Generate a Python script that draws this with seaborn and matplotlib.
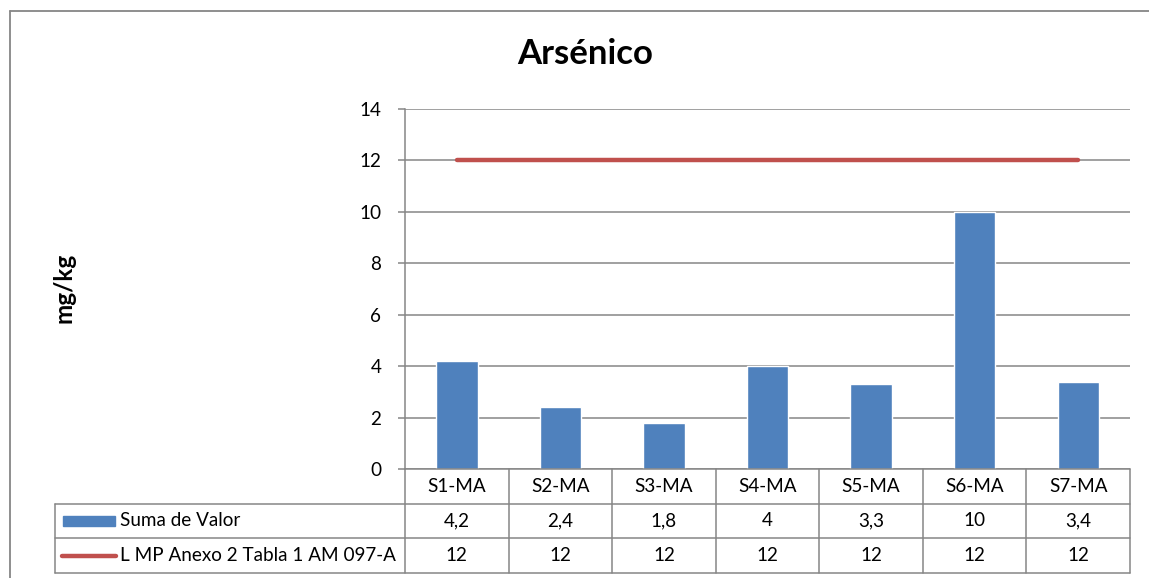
import matplotlib
matplotlib.use("agg")
import matplotlib.pyplot as plt
import pandas as pd
import seaborn as sns
import numpy as np
from matplotlib.lines import Line2D
from matplotlib.patches import Rectangle

categories = ["S1-MA", "S2-MA", "S3-MA", "S4-MA", "S5-MA", "S6-MA", "S7-MA"]
suma_valor = [4.2, 2.4, 1.8, 4, 3.3, 10, 3.4]
limite = [12, 12, 12, 12, 12, 12, 12]
series_names = ["Suma de Valor", "L MP Anexo 2 Tabla 1 AM 097-A"]
yticks = [0, 2, 4, 6, 8, 10, 12, 14]

BLUE = "#4F81BD"
RED = "#C0504D"
GRID = "#868686"

W, H = 1149, 578
sns.set_style("white")
plt.rcParams["font.family"] = ["Lato", "DejaVu Sans"]
plt.rcParams["text.color"] = "black"
plt.rcParams["ytick.labelcolor"] = "black"

fig = plt.figure(figsize=(W / 100, H / 100), dpi=100)

# pixel geometry of the plot area
pl, pr, pt, pb = 405, 1130, 109, 469
ax = fig.add_axes([pl / W, 1 - pb / H, (pr - pl) / W, (pb - pt) / H])

df = pd.DataFrame({"cat": categories, "val": suma_valor})
sns.barplot(data=df, x="cat", y="val", color=BLUE, width=0.4, saturation=1, ax=ax)
sns.lineplot(x=np.arange(len(categories)), y=limite, color=RED, linewidth=3.2,
             solid_capstyle="round", ax=ax)

ax.set_xlim(-0.5, len(categories) - 0.5)
ax.set_ylim(0, 14)
ax.set_yticks(yticks)
ax.set_yticklabels([str(t) for t in yticks], fontsize=13.6, color="black")
ax.set_xticks([])
ax.set_xlabel("")
ax.set_ylabel("")
ax.yaxis.grid(True, color=GRID, linewidth=1.1)
ax.set_axisbelow(True)
for s in ["top", "right", "bottom"]:
    ax.spines[s].set_visible(False)
ax.spines["left"].set_color(GRID)
ax.spines["left"].set_linewidth(1.1)
ax.tick_params(axis="y", length=5, width=1.1, color=GRID, pad=12, left=True)

# data table below the plot
tl, tr, tt, tb = 55, 1130, 469, 573
u = (pr - pl) / len(categories)
x0 = -0.5 - (pl - tl) / u
tab = fig.add_axes([tl / W, 1 - tb / H, (tr - tl) / W, (tb - tt) / H])
tab.set_xlim(x0, len(categories) - 0.5)
tab.set_ylim(3, 0)
tab.axis("off")
lk = dict(color=GRID, linewidth=1.1, clip_on=False)
for i in range(len(categories) + 1):
    tab.add_line(Line2D([i - 0.5, i - 0.5], [0, 3], **lk))
tab.add_line(Line2D([x0, x0], [1, 3], **lk))
tab.add_line(Line2D([-0.5, len(categories) - 0.5], [0, 0], **lk))
for yy in [1, 2, 3]:
    tab.add_line(Line2D([x0, len(categories) - 0.5], [yy, yy], **lk))

fs = 13.6
for i, c in enumerate(categories):
    tab.text(i, 0.5, c, ha="center", va="center", fontsize=fs)
    tab.text(i, 1.5, f"{suma_valor[i]:g}".replace(".", ","), ha="center", va="center", fontsize=fs)
    tab.text(i, 2.5, f"{limite[i]:g}", ha="center", va="center", fontsize=fs)

tab.add_patch(Rectangle((x0 + 8 / u, 1.36), 52 / u, 0.28, color=BLUE, clip_on=False))
tab.add_line(Line2D([x0 + 7 / u, x0 + 61 / u], [2.5, 2.5], color=RED, linewidth=3.2,
                    solid_capstyle="round", clip_on=False))
tab.text(x0 + 65 / u, 1.5, series_names[0], ha="left", va="center", fontsize=fs)
tab.text(x0 + 65 / u, 2.5, series_names[1], ha="left", va="center", fontsize=fs)

# title, axis label, chart frame
fig.text(585 / W, 1 - 54 / H, "Arsénico", ha="center", va="center", fontsize=25, fontweight="bold")
fig.text(64 / W, 1 - 288 / H, "mg/kg", ha="center", va="center", rotation=90,
         fontsize=17.5, fontweight="bold")
fig.add_artist(Line2D([10 / W, 10 / W], [0, 1 - 11 / H], color=GRID, linewidth=1.3,
                      transform=fig.transFigure))
fig.add_artist(Line2D([10 / W, 1], [1 - 11 / H, 1 - 11 / H], color=GRID, linewidth=1.3,
                      transform=fig.transFigure))

fig.savefig("out.png", dpi=100)
